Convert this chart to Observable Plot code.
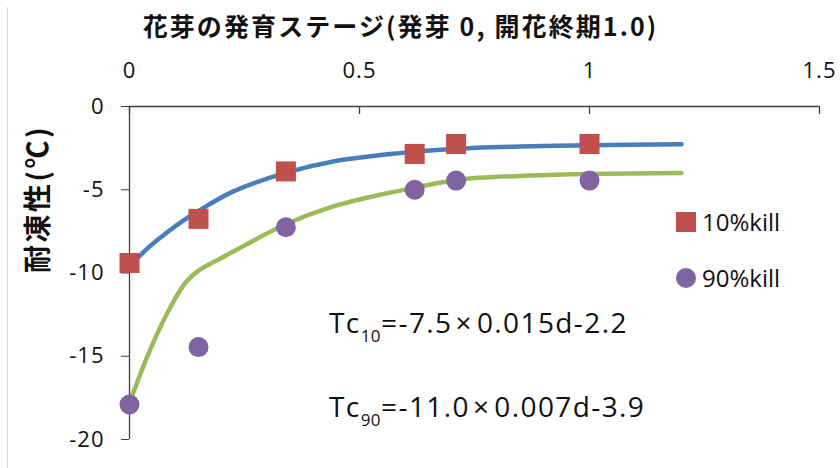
<!DOCTYPE html>
<html>
<head>
<meta charset="utf-8">
<script src="https://cdn.jsdelivr.net/npm/d3@7"></script>
<script src="https://cdn.jsdelivr.net/npm/@observablehq/plot@0.6"></script>
<style>
  html, body { margin: 0; padding: 0; background: #fff; }
  #chart { position: relative; width: 840px; height: 468px; overflow: hidden;
           font-family: "Open Sans", "Noto Sans", sans-serif; color: #111; }
  #chart svg { position: absolute; left: 0; top: 0; }
  #chart .edge { position: absolute; left: 7px; top: 7px; width: 1px; height: 461px; background: #d9d9d9; }
  .eq { position: absolute; left: 329px; font-size: 28px; line-height: 28px;
        letter-spacing: 1.4px; white-space: nowrap; }
  .eq sub { font-size: 17px; line-height: 0; vertical-align: -9px; letter-spacing: 0.5px; }
  .eq .times { margin: 0 4px 0 3px; }
  .legend { position: absolute; left: 676px; }
  .legend .item { position: absolute; left: 0; height: 20px; display: flex; align-items: center;
                  font-size: 24px; line-height: 20px; white-space: nowrap; }
  .legend .sw { width: 20px; height: 20px; margin-right: 6px; flex: none; }
  .x-ticks text, .y-ticks text { letter-spacing: 1px; }
  .x-title text { letter-spacing: 2.1px; }
  .y-title text { letter-spacing: 2.5px; }
</style>
</head>
<body>
<div id="chart"></div>
<script>
// Flower-bud development stage (bud break 0, end of bloom 1.0)
const stage  = [0, 0.15, 0.34, 0.62, 0.71, 1.0];
// Freezing tolerance (°C) at 10% and 90% kill
const kill10 = [-9.4, -6.75, -3.9, -2.85, -2.25, -2.25];
const kill90 = [-17.9, -14.45, -7.25, -5.0, -4.45, -4.45];

// Fitted curves, sampled along their paths
const fit10Stage = [0, 0.04, 0.08, 0.12, 0.16, 0.226, 0.337, 0.443, 0.588, 0.7, 0.85, 1.0, 1.2];
const fit10Temp  = [-9.6, -8.5, -7.6, -6.8, -6.1, -5.1, -4.0, -3.3, -2.8, -2.55, -2.4, -2.32, -2.26];
const fit90Stage = [0, 0.045, 0.088, 0.124, 0.153, 0.2, 0.24, 0.337, 0.443, 0.545, 0.617, 0.713, 0.87, 1.0, 1.2];
const fit90Temp  = [-17.8, -14.6, -12.1, -10.5, -9.8, -9.1, -8.5, -7.1, -6.0, -5.3, -4.9, -4.4, -4.15, -4.05, -4.0];

const xTicks = [0, 0.5, 1, 1.5];
const yTicks = [0, -5, -10, -15, -20];

const xTitle = "花芽の発育ステージ(発芽 0, 開花終期1.0)";
const yTitle = "耐凍性(℃)";
const seriesNames = ["10%kill", "90%kill"];
const colors = { red: "#c0504d", purple: "#8064a2", blue: "#4a7ebb", green: "#9bbb59", axis: "#404040" };

const pts10 = stage.map((d, i) => ({ d, t: kill10[i] }));
const pts90 = stage.map((d, i) => ({ d, t: kill90[i] }));
const curve10 = fit10Stage.map((d, i) => ({ d, t: fit10Temp[i] }));
const curve90 = fit90Stage.map((d, i) => ({ d, t: fit90Temp[i] }));

const marginTop = 106, marginBottom = 29, marginLeft = 129, marginRight = 21;
const H = 468, innerH = H - marginTop - marginBottom;
const cjk = '"Noto Sans CJK JP", "Noto Sans", sans-serif';

const plot = Plot.plot({
  width: 840,
  height: H,
  marginTop, marginBottom, marginLeft, marginRight,
  style: { fontFamily: '"Open Sans", "Noto Sans", sans-serif', color: "#111", background: "transparent" },
  x: { domain: [0, 1.5] },
  y: { domain: [-20, 0] },
  marks: [
    // top axis labels
    Plot.axisX({ anchor: "top", ticks: xTicks, tickSize: 0, tickPadding: 29,
                 tickFormat: d => String(d), fontSize: 22, label: null, className: "x-ticks" }),
    // left axis labels and outward ticks
    Plot.axisY({ anchor: "left", ticks: yTicks, tickSize: 8, tickPadding: 17,
                 tickFormat: d => String(d), fontSize: 22, label: null, stroke: colors.axis,
                 className: "y-ticks" }),
    // inward ticks on the top axis
    Plot.tickX(xTicks, { x: d => d, stroke: colors.axis, strokeWidth: 1.3, insetBottom: innerH - 8 }),
    // axis lines
    Plot.ruleY([0], { stroke: colors.axis, strokeWidth: 1.3 }),
    Plot.ruleX([0], { stroke: colors.axis, strokeWidth: 1.3 }),
    // fitted curves
    Plot.line(curve10, { x: "d", y: "t", stroke: colors.blue, strokeWidth: 4.5, curve: "catmull-rom" }),
    Plot.line(curve90, { x: "d", y: "t", stroke: colors.green, strokeWidth: 4.5, curve: "catmull-rom" }),
    // observations
    Plot.dot(pts10, { x: "d", y: "t", symbol: "square", r: 11.3, fill: colors.red }),
    Plot.dot(pts90, { x: "d", y: "t", symbol: "circle", r: 10, fill: colors.purple }),
    // axis titles
    Plot.text([xTitle], { text: d => d, frameAnchor: "top", dx: -74, dy: -71, lineAnchor: "bottom",
                          fontSize: 25, fontWeight: "bold", fontFamily: cjk, fill: "#111",
                          className: "x-title" }),
    Plot.text([yTitle], { text: d => d, frameAnchor: "left", dx: -90, rotate: -90,
                          fontSize: 28, fontWeight: "bold", fontFamily: cjk, fill: "#111",
                          className: "y-title" })
  ]
});

const root = document.getElementById("chart");
const edge = document.createElement("div");
edge.className = "edge";
root.appendChild(edge);
root.appendChild(plot);

// equations of the fitted curves
const eqs = [
  { top: 308, pre: "Tc", sub: "10", a: "=-7.5", b: "0.015d-2.2" },
  { top: 392, pre: "Tc", sub: "90", a: "=-11.0", b: "0.007d-3.9" }
];
for (const e of eqs) {
  const div = document.createElement("div");
  div.className = "eq";
  div.style.top = e.top + "px";
  div.appendChild(document.createTextNode(e.pre));
  const s = document.createElement("sub");
  s.textContent = e.sub;
  div.appendChild(s);
  div.appendChild(document.createTextNode(e.a));
  const x = document.createElement("span");
  x.className = "times";
  x.textContent = "\u00d7";
  div.appendChild(x);
  div.appendChild(document.createTextNode(e.b));
  root.appendChild(div);
}

// legend
const legend = document.createElement("div");
legend.className = "legend";
[{ name: seriesNames[0], color: colors.red, round: false, top: 212 },
 { name: seriesNames[1], color: colors.purple, round: true, top: 268 }].forEach(it => {
  const item = document.createElement("div");
  item.className = "item";
  item.style.top = it.top + "px";
  const sw = document.createElement("span");
  sw.className = "sw";
  sw.style.background = it.color;
  if (it.round) sw.style.borderRadius = "50%";
  const label = document.createElement("span");
  label.textContent = it.name;
  item.appendChild(sw);
  item.appendChild(label);
  legend.appendChild(item);
});
root.appendChild(legend);
</script>
</body>
</html>
